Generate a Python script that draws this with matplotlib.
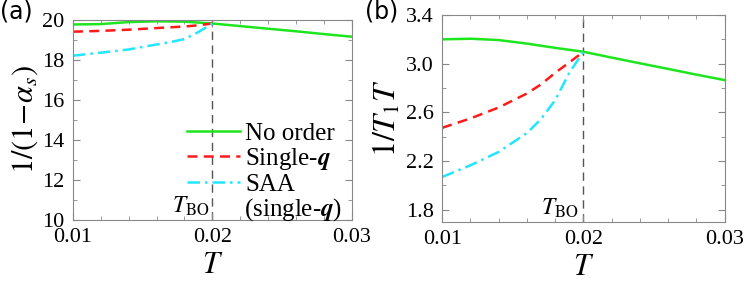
import numpy as np
import matplotlib
matplotlib.use('Agg')
import matplotlib.pyplot as plt

plt.rcParams['font.family'] = ['Liberation Serif', 'DejaVu Serif']
plt.rcParams['mathtext.fontset'] = 'stix'

# temperatures
T_all = [0.010, 0.012, 0.014, 0.016, 0.018, 0.020, 0.022, 0.024, 0.026, 0.028, 0.030]
T_ord = [0.010, 0.012, 0.014, 0.016, 0.017, 0.018, 0.019, 0.020]

# panel (a): 1/(1-alpha_s)
a_noorder = [19.78, 19.80, 19.90, 19.94, 19.92, 19.83, 19.70, 19.57, 19.44, 19.30, 19.17]
a_single = [19.42, 19.46, 19.52, 19.60, 19.64, 19.68, 19.74, 19.83]
a_saa = [18.22, 18.37, 18.53, 18.78, 18.90, 19.05, 19.40, 19.83]

# panel (b): 1/T1T
b_noorder = [3.200, 3.205, 3.194, 3.165, 3.130, 3.098, 3.050, 3.003, 2.957, 2.910, 2.865]
b_single = [2.473, 2.550, 2.640, 2.755, 2.830, 2.925, 3.010, 3.098]
b_saa = [2.069, 2.165, 2.275, 2.430, 2.545, 2.700, 2.925, 3.098]

T_BO = 0.02

green = '#1ee61e'
red = '#ff1a1a'
cyan = '#22e6ff'
frame = '#888888'

fig = plt.figure(figsize=(7.47, 2.83), dpi=100)
ax1 = fig.add_axes([0.0977, 0.223, 0.373, 0.706])
ax2 = fig.add_axes([0.592, 0.216, 0.378, 0.731])


def style(ax):
    for s in ax.spines.values():
        s.set_color(frame)
    ax.tick_params(which='both', direction='in', top=True, right=True,
                   color=frame, labelsize=16, pad=6)
    ax.tick_params(which='major', length=5)
    ax.tick_params(which='minor', length=3)
    ax.set_xlim(0.01, 0.03)
    ax.set_xticks([0.01, 0.02, 0.03])
    ax.set_xticklabels(['0.01', '0.02', '0.03'])
    ax.set_xticks(np.arange(0.012, 0.03, 0.002), minor=True)
    ax.axvline(T_BO, color='#555555', lw=1, ls=(0, (6, 4)), zorder=1)
    ax.set_xlabel(r'$T$', fontsize=22, labelpad=3)


# (a)
style(ax1)
l1, = ax1.plot(T_all, a_noorder, color=green, lw=1.8)
l2, = ax1.plot(T_ord, a_single, color=red, lw=1.8, ls=(0, (4, 2.5)))
l3, = ax1.plot(T_ord, a_saa, color=cyan, lw=1.8, ls=(0, (5, 2, 1, 2)))
ax1.set_ylim(10, 20)
ax1.set_yticks([10, 12, 14, 16, 18, 20])
ax1.set_yticks([11, 13, 15, 17, 19], minor=True)
ax1.set_ylabel(r'$1/(1\!-\!\alpha_s)$', fontsize=22, labelpad=2)
ax1.legend([l1, l2, l3], ['No order', r'Single-$\mathbfit{q}$', 'SAA'],
           loc='upper left', bbox_to_anchor=(0.375, 0.54), frameon=False,
           fontsize=18, handlelength=2.1, handletextpad=0.2,
           labelspacing=0.05, borderaxespad=0)
ax1.text(0.615, -0.015, r'(single-$\mathbfit{q}$)', transform=ax1.transAxes,
         fontsize=18, ha='left', va='bottom')
ax1.text(0.355, 0.01, r'$T_{\mathrm{BO}}$', transform=ax1.transAxes,
         fontsize=17, ha='left', va='bottom')

# (b)
style(ax2)
ax2.plot(T_all, b_noorder, color=green, lw=1.8)
ax2.plot(T_ord, b_single, color=red, lw=1.8, ls=(0, (4, 2.5)))
ax2.plot(T_ord, b_saa, color=cyan, lw=1.8, ls=(0, (5, 2, 1, 2)))
ax2.set_ylim(1.7, 3.4)
ax2.set_yticks([1.8, 2.2, 2.6, 3.0, 3.4])
ax2.set_yticks([2.0, 2.4, 2.8, 3.2], minor=True)
ax2.set_ylabel(r'$1/T_1T$', fontsize=23, labelpad=2)
ax2.text(0.35, 0.01, r'$T_{\mathrm{BO}}$', transform=ax2.transAxes,
         fontsize=17, ha='left', va='bottom')

fig.text(0.0, 1.0, '(a)', fontsize=17, family='DejaVu Sans', ha='left', va='top')
fig.text(0.489, 1.0, '(b)', fontsize=17, family='DejaVu Sans', ha='left', va='top')

fig.savefig('out.png', dpi=100)
